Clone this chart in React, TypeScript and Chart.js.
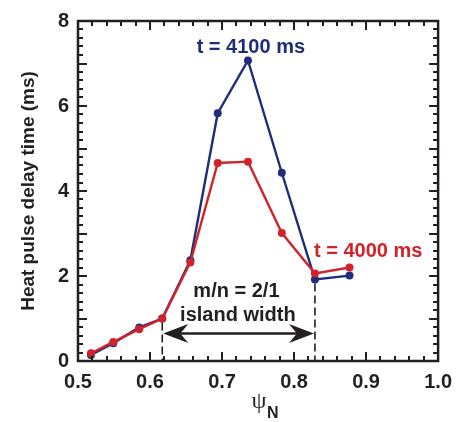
import React, { useEffect, useRef } from "react";
import { Chart, registerables } from "chart.js";

Chart.register(...registerables);

// ---- data ----
const psiN = [0.518, 0.549, 0.585, 0.617, 0.656, 0.694, 0.736, 0.783, 0.829, 0.877];
const delay4100 = [0.14, 0.42, 0.79, 1.0, 2.37, 5.83, 7.07, 4.43, 1.92, 2.01];
const delay4000 = [0.18, 0.45, 0.75, 1.0, 2.32, 4.66, 4.69, 3.01, 2.06, 2.2];
const xTicks = [0.5, 0.6, 0.7, 0.8, 0.9, 1.0];
const yTicks = [0, 2, 4, 6, 8];
const islandEdges = [0.617, 0.829];
const islandEdgeTops = [1.0, 1.92];

const BLUE = "#1f2d7b";
const RED = "#d2232a";
const INK = "#231f20";
const SANS = "'Liberation Sans', Arial, Helvetica, sans-serif";

const annotPlugin = {
  id: "annot",
  afterDraw(chart: any) {
    const { ctx, chartArea: a, scales } = chart;
    const x = scales.x;
    const y = scales.y;
    ctx.save();
    ctx.fillStyle = INK;
    // inward ticks on all four sides
    for (let i = 0; i <= 25; i++) {
      const px = Math.round(x.getPixelForValue(0.5 + i * 0.02));
      const len = i % 5 === 0 ? 9 : 5;
      ctx.fillRect(px - 1, a.bottom - len, 2, len);
      ctx.fillRect(px - 1, a.top, 2, len);
    }
    for (let i = 0; i <= 40; i++) {
      const py = Math.round(y.getPixelForValue(i * 0.2));
      const len = i % 5 === 0 ? 9 : 5;
      ctx.fillRect(a.left, py - 1, len, 2);
      ctx.fillRect(a.right - len, py - 1, len, 2);
    }
    ctx.strokeStyle = INK;
    ctx.lineWidth = 2.5;
    ctx.strokeRect(a.left, a.top, a.right - a.left, a.bottom - a.top);

    // dashed island edges
    ctx.lineWidth = 1.6;
    ctx.setLineDash([8, 4]);
    ctx.beginPath();
    islandEdges.forEach((v, i) => {
      const px = x.getPixelForValue(v);
      ctx.moveTo(px, y.getPixelForValue(islandEdgeTops[i]) + 4);
      ctx.lineTo(px, a.bottom);
    });
    ctx.stroke();
    ctx.setLineDash([]);

    // double arrow
    const ay = y.getPixelForValue(0.645);
    const x0 = x.getPixelForValue(islandEdges[0]) + 1;
    const x1 = x.getPixelForValue(islandEdges[1]) - 1;
    ctx.lineWidth = 2.5;
    ctx.beginPath();
    ctx.moveTo(x0 + 10, ay);
    ctx.lineTo(x1 - 10, ay);
    ctx.stroke();
    const head = (tx: number, dir: number) => {
      ctx.beginPath();
      ctx.moveTo(tx, ay);
      ctx.lineTo(tx + dir * 25, ay - 9.5);
      ctx.lineTo(tx + dir * 17, ay);
      ctx.lineTo(tx + dir * 25, ay + 9.5);
      ctx.closePath();
      ctx.fill();
    };
    head(x0, 1);
    head(x1, -1);

    // texts
    ctx.textAlign = "center";
    ctx.textBaseline = "alphabetic";
    ctx.font = `bold 20px ${SANS}`;
    ctx.fillStyle = BLUE;
    ctx.fillText("t = 4100 ms", x.getPixelForValue(0.74), y.getPixelForValue(7.24));
    ctx.fillStyle = RED;
    ctx.fillText("t = 4000 ms", x.getPixelForValue(0.903), y.getPixelForValue(2.44));
    ctx.fillStyle = INK;
    ctx.fillText("m/n = 2/1", x.getPixelForValue(0.72), y.getPixelForValue(1.5));
    ctx.fillText("island width", x.getPixelForValue(0.722), y.getPixelForValue(0.945));

    // x axis title: psi_N
    ctx.textAlign = "center";
    ctx.font = `24px 'Liberation Serif', 'DejaVu Serif', serif`;
    ctx.fillText("ψ", 259, 408);
    ctx.textAlign = "left";
    ctx.font = `bold 16px ${SANS}`;
    ctx.fillText("N", 267, 418);
    ctx.restore();
  },
};

export default function App() {
  const ref = useRef<HTMLCanvasElement | null>(null);
  useEffect(() => {
    if (!ref.current) return;
    const chart = new Chart(ref.current, {
      type: "line",
      data: {
        datasets: [
          {
            label: "t = 4000 ms",
            data: psiN.map((v, i) => ({ x: v, y: delay4000[i] })),
            borderColor: RED,
            backgroundColor: RED,
            borderWidth: 2.4,
            pointRadius: 4,
            pointBorderWidth: 0,
            tension: 0,
          },
          {
            label: "t = 4100 ms",
            data: psiN.map((v, i) => ({ x: v, y: delay4100[i] })),
            borderColor: BLUE,
            backgroundColor: BLUE,
            borderWidth: 2.4,
            pointRadius: 4,
            pointBorderWidth: 0,
            tension: 0,
          },
        ],
      },
      options: {
        responsive: false,
        animation: false,
        layout: { padding: { left: 0, right: 18, top: 14, bottom: 0 } },
        plugins: { legend: { display: false }, tooltip: { enabled: false } },
        scales: {
          x: {
            type: "linear",
            min: 0.5,
            max: 1.0,
            border: { display: false },
            grid: { display: false, drawTicks: false, tickLength: 0 },
            afterBuildTicks: (s: any) => {
              s.ticks = xTicks.map((v) => ({ value: v }));
            },
            afterFit: (s: any) => {
              s.height = 61;
            },
            ticks: {
              padding: 9,
              maxRotation: 0,
              autoSkip: false,
              color: INK,
              font: { family: SANS, size: 20, weight: "bold" },
              callback: (v: any) => Number(v).toFixed(1),
            },
          },
          y: {
            type: "linear",
            min: 0,
            max: 8,
            border: { display: false },
            grid: { display: false, drawTicks: false, tickLength: 0 },
            afterBuildTicks: (s: any) => {
              s.ticks = yTicks.map((v) => ({ value: v }));
            },
            afterFit: (s: any) => {
              s.width = 78;
            },
            title: {
              display: true,
              text: "Heat pulse delay time (ms)",
              color: INK,
              padding: { top: 17, bottom: 0 },
              font: { family: SANS, size: 19, weight: "bold" },
            },
            ticks: {
              padding: 9,
              autoSkip: false,
              color: INK,
              font: { family: SANS, size: 20, weight: "bold" },
              callback: (v: any) => String(v),
            },
          },
        },
      },
      plugins: [annotPlugin],
    });
    return () => chart.destroy();
  }, []);
  return (
    <div style={{ position: "fixed", left: 0, top: 0, width: 461, height: 422, background: "#fff" }}>
      <canvas ref={ref} width={461} height={422} style={{ width: 461, height: 422 }} />
    </div>
  );
}
